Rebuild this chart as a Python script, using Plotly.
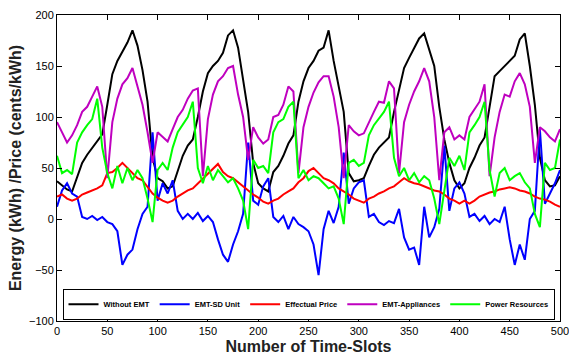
import plotly.graph_objects as go

slots = list(range(0, 501, 5))

without_emt = [37, 33, 29, 27, 40, 55, 63, 70, 77, 83, 112, 142, 155, 164, 173, 185, 170, 146, 115, 60,
               40, 37, 30, 32, 48, 62, 72, 78, 100, 125, 143, 150, 155, 163, 180, 185, 168, 135, 105, 55,
               35, 30, 27, 46, 52, 62, 74, 82, 115, 135, 148, 155, 165, 168, 185, 155, 130, 105, 45, 37,
               38, 40, 52, 63, 70, 75, 80, 105, 128, 148, 158, 168, 177, 182, 165, 150, 110, 78, 55, 38,
               30, 35, 50, 60, 72, 80, 110, 140, 145, 150, 155, 160, 176, 182, 150, 112, 60, 38, 32, 33, 42]

emt_sd = [12, 28, 35, 25, 22, 2, 0, 3, -1, 2, -3, -5, -12, -45, -35, -30, -10, 5, 12, 85,
          18, 35, 25, 38, 8, 0, 5, 0, 6, -2, 3, -3, -20, -35, -42, -25, -12, 5, 75, 18,
          14, 32, 40, 2, -3, 3, -10, 2, -5, -8, -12, -25, -55, -10, 8, -4, 12, 65, 15, 30,
          36, 38, 2, 5, -3, -6, -2, -4, 10, -18, -30, -28, -45, 12, -18, -8, 10, 72, 8, 30,
          36, 25, 2, 5, -2, 3, -5, 0, -3, 12, -20, -45, -25, -40, 0, 8, 88, 15, 25, 35, 48]

price = [22, 24, 20, 18, 20, 24, 26, 28, 30, 33, 45, 46, 50, 55, 50, 45, 40, 38, 32, 25,
         21, 18, 16, 18, 22, 25, 28, 30, 35, 40, 45, 50, 54, 46, 42, 40, 36, 32, 28, 24,
         21, 17, 15, 18, 20, 24, 27, 30, 36, 40, 47, 50, 45, 40, 38, 35, 30, 27, 24, 20,
         18, 16, 20, 22, 25, 27, 30, 32, 36, 40, 37, 35, 34, 32, 30, 28, 27, 24, 20, 18,
         15, 18, 15, 18, 22, 24, 26, 27, 29, 30, 31, 30, 28, 27, 25, 22, 20, 19, 17, 14, 12]

appliances = [95, 85, 75, 82, 92, 105, 110, 120, 130, 110, 40, 95, 118, 132, 138, 148, 130, 112, 85, 55,
              85, 80, 76, 88, 100, 107, 118, 126, 128, 42, 98, 122, 135, 140, 148, 150, 122, 100, 58, 90,
              80, 74, 78, 100, 102, 112, 130, 125, 45, 90, 110, 124, 134, 140, 140, 120, 90, 40, 92, 86,
              82, 84, 95, 105, 115, 114, 135, 128, 45, 95, 112, 125, 135, 148, 135, 100, 38, 85, 90, 78,
              82, 78, 100, 108, 115, 132, 42, 80, 105, 122, 120, 135, 143, 132, 110, 55, 90, 86, 80, 76, 88]

resources = [62, 45, 48, 44, 75, 85, 92, 98, 118, 70, 45, 30, 52, 35, 50, 38, 48, 40, 20, -3,
             48, 55, 48, 70, 85, 92, 100, 115, 50, 35, 52, 38, 48, 42, 36, 40, 30, 18, -10, 58,
             50, 52, 45, 85, 95, 98, 110, 115, 40, 48, 38, 42, 40, 35, 30, 32, 20, -5, 55, 58,
             52, 55, 82, 92, 98, 105, 115, 60, 42, 50, 38, 45, 36, 42, 38, 20, -5, 30, 60, 52,
             62, 48, 85, 92, 100, 115, 48, 22, 45, 50, 38, 42, 45, 36, 30, 5, -8, 55, 48, 50, 78]

names = ["Without EMT", "EMT-SD Unit", "Effectual Price", "EMT-Appliances", "Power Resources"]
colors = ["#000000", "#0000FF", "#FF0000", "#BF00BF", "#00FF00"]
series = [without_emt, emt_sd, price, appliances, resources]

x_ticks = list(range(0, 501, 50))
y_ticks = list(range(-100, 201, 50))

fig = go.Figure()
for name, col, ys in zip(names, colors, series):
    fig.add_trace(go.Scatter(x=slots, y=ys, mode="lines", name="<b>" + name + "</b>",
                             line=dict(color=col, width=2)))

font_family = "Liberation Sans, Arial, sans-serif"
axis_common = dict(showline=True, linecolor="black", linewidth=1, mirror="ticks",
                   ticks="inside", ticklen=5, tickcolor="black", showgrid=False,
                   zeroline=False, automargin=False, ticklabeloverflow="allow",
                   tickfont=dict(size=11, color="black", family=font_family))

fig.update_xaxes(range=[0, 500], tickvals=x_ticks,
                 title=dict(text="<b>Number of Time-Slots</b>", font=dict(size=16, color="#222", family=font_family), standoff=4),
                 **axis_common)
fig.update_yaxes(range=[-100, 200], tickvals=y_ticks,
                 title=dict(text="<b>Energy (kWh) /Price (cents/kWh)</b>", font=dict(size=16, color="#222", family=font_family), standoff=3),
                 **axis_common)

fig.update_layout(
    width=569, height=358,
    margin=dict(l=57, r=9, t=15, b=37),
    paper_bgcolor="white", plot_bgcolor="white",
    font=dict(family=font_family, color="black"),
    legend=dict(orientation="h", x=0.5, xanchor="center", y=0.004, yanchor="bottom",
                bgcolor="white", bordercolor="black", borderwidth=1,
                font=dict(size=7.5, color="black", family=font_family),
                itemwidth=30, tracegroupgap=0),
)

fig.write_html("out.html", config={"displayModeBar": False},
               post_script="document.body.style.margin='0px';document.body.style.padding='0px';")
